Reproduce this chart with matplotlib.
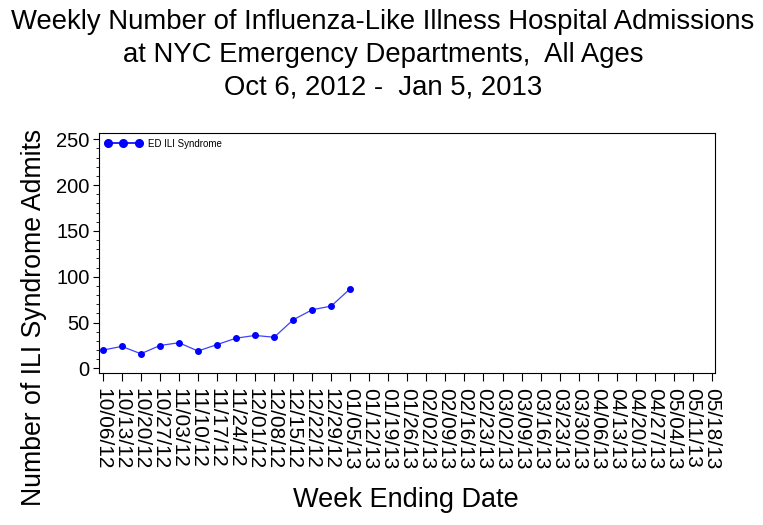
import matplotlib
matplotlib.use("Agg")
import matplotlib.pyplot as plt
from matplotlib.ticker import MultipleLocator
from matplotlib.lines import Line2D

plt.rcParams['font.family'] = ['Liberation Sans', 'DejaVu Sans']

weeks = ["10/06/12", "10/13/12", "10/20/12", "10/27/12", "11/03/12", "11/10/12",
         "11/17/12", "11/24/12", "12/01/12", "12/08/12", "12/15/12", "12/22/12",
         "12/29/12", "01/05/13", "01/12/13", "01/19/13", "01/26/13", "02/02/13",
         "02/09/13", "02/16/13", "02/23/13", "03/02/13", "03/09/13", "03/16/13",
         "03/23/13", "03/30/13", "04/06/13", "04/13/13", "04/20/13", "04/27/13",
         "05/04/13", "05/11/13", "05/18/13"]
admits = [20, 24, 16, 25, 28, 19, 26, 33, 36, 34, 53, 64, 68, 87]
series_name = "ED ILI Syndrome"
title_lines = ["Weekly Number of Influenza-Like Illness Hospital Admissions",
               "at NYC Emergency Departments,  All Ages",
               "Oct 6, 2012 -  Jan 5, 2013"]

W, H = 763, 525
fig = plt.figure(figsize=(W / 100, H / 100), dpi=100)
ax = fig.add_axes([0.130, 0.2895, 0.807, 0.4575])

x = list(range(len(admits)))
ax.plot(x, admits, color='#4040ff', linewidth=0.9, marker='o', markersize=4,
        markerfacecolor='#0000ff', markeredgecolor='#0000ff')

ax.set_xlim(-0.19, len(weeks) - 1 + 0.16)
ax.set_ylim(-5, 257)
ax.set_xticks(range(len(weeks)))
ax.set_xticklabels(weeks, rotation=-90, fontsize=15)
ax.yaxis.set_major_locator(MultipleLocator(50))
ax.yaxis.set_minor_locator(MultipleLocator(10))
ax.tick_params(axis='y', labelsize=14.5, length=4, width=0.8, pad=3)
ax.tick_params(axis='y', which='minor', length=2.5, width=0.6)
ax.tick_params(axis='x', length=6, width=0.8, pad=5)
for s in ax.spines.values():
    s.set_linewidth(0.8)

handle = Line2D([0], [0], color='#0000ff', linewidth=1.2, marker='o', markersize=5.5,
                markerfacecolor='#0000ff', markeredgecolor='#0000ff')
ax.legend([handle], [series_name], loc='upper left', frameon=False, fontsize=7,
          numpoints=3, handlelength=3.8, handletextpad=0.6,
          borderaxespad=0.3, borderpad=0.3)

ax.set_ylabel("Number of ILI Syndrome Admits", fontsize=19.2)
ax.yaxis.set_label_coords(-0.085, 0.231)
ax.set_xlabel("Week Ending Date", fontsize=19.5)
ax.xaxis.set_label_coords(0.498, -0.474)

for txt, base in zip(title_lines, [29, 62, 95]):
    fig.text(0.502, 1 - base / H, txt, ha='center', va='baseline', fontsize=19.8)

fig.savefig("out.png", dpi=100, facecolor='white')
